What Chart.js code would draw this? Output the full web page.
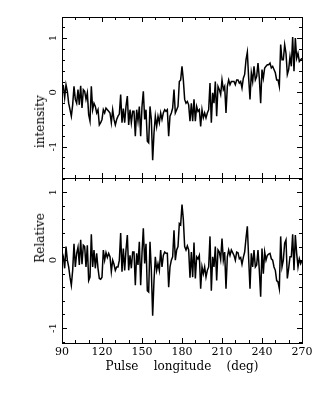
<!DOCTYPE html>
<html>
<head>
<meta charset="utf-8">
<script src="https://cdn.jsdelivr.net/npm/chart.js@4"></script>
<style>
  body { margin: 0; background: #fff; }
  #wrap { position: relative; width: 332px; height: 399px; }
  canvas { position: absolute; left: 0; top: 0; }
  #ytitle {
    position: absolute; left: 40px; top: 179px;
    transform: translate(-50%, -50%) rotate(-90deg);
    display: flex; gap: 65px; white-space: nowrap;
    font: 12px "DejaVu Serif"; line-height: 1; color: #000;
  }
</style>
</head>
<body>
<div id="wrap">
  <canvas id="topChart" width="332" height="399"></canvas>
  <canvas id="bottomChart" width="332" height="399"></canvas>
  <div id="ytitle"><span>Relative</span><span>intensity</span></div>
</div>
<script>
// longitude bins: 90..270 deg, 1 deg apart
const longitudeStart = 90;
const longitudeStep = 1;

// upper panel: profile with baseline
const topIntensity = [
  0.11, 0.12, -0.10, 0.14, 0.02, -0.20, -0.32, -0.44, -0.23, 0.11,
  -0.13, -0.20, 0.05, -0.23, 0.12, -0.29, 0.05, 0.02, -0.13, -0.01,
  -0.41, -0.53, 0.11, -0.32, -0.20, -0.26, -0.38, -0.32, -0.60, -0.56,
  -0.50, -0.32, -0.38, -0.29, -0.32, -0.35, -0.38, -0.56, -0.32, -0.50,
  -0.60, -0.50, -0.44, -0.40, -0.04, -0.56, -0.30, -0.56, -0.26, -0.07,
  -0.60, -0.32, -0.56, -0.35, -0.35, -0.81, -0.32, -0.53, -0.26, -0.81,
  -0.26, 0.02, -0.50, -0.32, -0.90, -0.93, -0.26, -0.50, -1.25, -0.75,
  -0.44, -0.63, -0.44, -0.56, -0.38, -0.50, -0.38, -0.32, -0.35, -0.32,
  -0.81, -0.44, -0.38, -0.29, 0.05, -0.38, -0.32, -0.26, 0.20, 0.23,
  0.48, 0.23, -0.13, -0.20, -0.17, -0.23, -0.53, -0.20, -0.53, -0.13,
  -0.53, -0.26, -0.35, -0.32, -0.63, -0.32, -0.47, -0.38, -0.47, -0.38,
  -0.32, 0.17, -0.56, -0.01, -0.20, 0.20, -0.44, 0.11, 0.05, -0.04,
  0.23, 0.05, 0.11, -0.38, 0.11, 0.23, 0.14, 0.20, 0.20, 0.20,
  0.14, 0.23, 0.23, 0.17, 0.20, 0.08, 0.26, 0.33, 0.60, 0.74,
  0.26, -0.13, 0.36, 0.20, 0.48, 0.23, 0.29, 0.54, 0.26, -0.20,
  0.42, 0.26, 0.45, 0.48, 0.51, 0.51, 0.54, 0.45, 0.48, 0.42,
  0.36, 0.23, 0.23, 0.11, 0.88, 0.60, 0.60, 0.88, 0.72, 0.33,
  0.42, 0.66, 0.48, 1.02, 0.39, 1.00, 0.63, 0.72, 0.57, 0.60,
  0.63
];

// lower panel: baseline removed
const residual = [
  0.12, 0.05, -0.12, 0.20, 0.00, -0.10, -0.25, -0.37, -0.15, 0.24,
  -0.10, 0.10, 0.19, -0.07, 0.30, -0.06, 0.22, 0.20, -0.10, 0.22,
  -0.30, -0.25, 0.38, -0.10, 0.15, -0.12, 0.10, -0.12, -0.27, -0.28,
  -0.25, 0.15, 0.00, 0.11, 0.04, 0.10, 0.05, -0.17, 0.00, -0.06,
  -0.15, -0.10, -0.10, 0.00, 0.40, -0.17, 0.17, -0.15, 0.15, 0.37,
  -0.15, 0.07, -0.12, 0.12, 0.12, -0.37, 0.10, -0.07, 0.27, -0.37,
  0.10, 0.47, -0.05, 0.24, -0.45, -0.47, 0.27, -0.15, -0.82, -0.30,
  0.05, -0.15, -0.05, -0.15, 0.15, -0.10, 0.07, 0.12, 0.10, 0.10,
  -0.40, -0.10, 0.00, 0.05, 0.44, 0.00, 0.15, 0.20, 0.54, 0.52,
  0.82, 0.60, 0.20, 0.15, 0.21, 0.15, -0.26, 0.12, -0.25, 0.26,
  -0.27, 0.05, 0.02, 0.07, -0.42, -0.10, -0.20, -0.10, -0.25, -0.15,
  -0.10, 0.35, -0.45, 0.05, -0.10, 0.20, -0.30, 0.15, 0.12, 0.01,
  0.32, 0.00, 0.12, -0.42, 0.05, 0.15, 0.07, 0.15, 0.11, 0.07,
  0.00, 0.12, 0.11, 0.02, 0.04, -0.06, 0.04, 0.12, 0.32, 0.50,
  0.02, -0.42, 0.10, -0.10, 0.15, -0.10, -0.07, 0.15, -0.15, -0.54,
  0.17, -0.20, 0.12, 0.00, 0.07, 0.09, 0.10, 0.02, 0.00, -0.10,
  -0.15, -0.30, -0.32, -0.42, 0.35, -0.10, 0.00, 0.25, 0.30, -0.27,
  -0.12, 0.05, 0.05, 0.38, -0.15, 0.37, 0.10, -0.10, 0.02, -0.05,
  0.00
];

const yTickLabels = [-1, 0, 1];
const xTitle = 'Pulse    longitude    (deg)';
const serif = '"DejaVu Serif"';

function toPoints(values) {
  return values.map((v, i) => ({ x: longitudeStart + i * longitudeStep, y: v }));
}

// frame with inward ticks on all sides, rotated y labels
const framePlugin = {
  id: 'frame',
  afterDraw(chart) {
    const { ctx, chartArea: a, scales: { x, y } } = chart;
    ctx.save();
    ctx.strokeStyle = '#000';
    ctx.lineWidth = 1;
    ctx.strokeRect(a.left + 0.5, a.top + 0.5, a.right - a.left, a.bottom - a.top);
    ctx.beginPath();
    for (let v = x.min; v <= x.max; v += 10) {
      const px = Math.round(x.getPixelForValue(v)) + 0.5;
      const len = v % 30 === 0 ? 5 : 3;
      ctx.moveTo(px, a.top); ctx.lineTo(px, a.top + len);
      ctx.moveTo(px, a.bottom); ctx.lineTo(px, a.bottom - len);
    }
    for (let k = Math.ceil(y.min * 5); k <= Math.floor(y.max * 5); k++) {
      const py = Math.round(y.getPixelForValue(k / 5)) + 0.5;
      const len = k % 5 === 0 ? 5 : 3;
      ctx.moveTo(a.left, py); ctx.lineTo(a.left + len, py);
      ctx.moveTo(a.right, py); ctx.lineTo(a.right - len, py);
    }
    ctx.stroke();

    ctx.fillStyle = '#000';
    ctx.font = '10px ' + serif;
    ctx.textAlign = 'center';
    ctx.textBaseline = 'middle';
    yTickLabels.forEach(v => {
      ctx.save();
      ctx.translate(a.left - 9, y.getPixelForValue(v));
      ctx.rotate(-Math.PI / 2);
      ctx.fillText(String(v), 0, 0);
      ctx.restore();
    });
    ctx.restore();
  }
};

function lineDataset(values) {
  return {
    data: toPoints(values),
    borderColor: '#000',
    borderWidth: 1.5,
    pointRadius: 0,
    tension: 0,
    fill: false
  };
}

const common = {
  responsive: false,
  animation: false,
  events: [],
  plugins: { legend: { display: false }, tooltip: { enabled: false } }
};

new Chart(document.getElementById('topChart'), {
  type: 'line',
  data: { datasets: [lineDataset(topIntensity)] },
  options: {
    ...common,
    layout: { padding: { left: 62, right: 30, top: 17, bottom: 221 } },
    scales: {
      x: { type: 'linear', min: 90, max: 270, display: false },
      y: { min: -1.58, max: 1.39, display: false }
    }
  },
  plugins: [framePlugin]
});

new Chart(document.getElementById('bottomChart'), {
  type: 'line',
  data: { datasets: [lineDataset(residual)] },
  options: {
    ...common,
    layout: { padding: { left: 62, right: 30, top: 178, bottom: 16 } },
    scales: {
      x: {
        type: 'linear', min: 90, max: 270,
        grid: { display: false, drawTicks: false },
        border: { display: false },
        ticks: { stepSize: 30, maxRotation: 0, padding: 3, color: '#000', font: { family: serif, size: 11 } },
        title: { display: true, text: xTitle, color: '#000', font: { family: serif, size: 12 }, padding: { top: 0, bottom: 9 } },
        afterFit(scale) { scale.height = 40; }
      },
      y: { min: -1.22, max: 1.21, display: false }
    }
  },
  plugins: [framePlugin]
});
</script>
</body>
</html>
